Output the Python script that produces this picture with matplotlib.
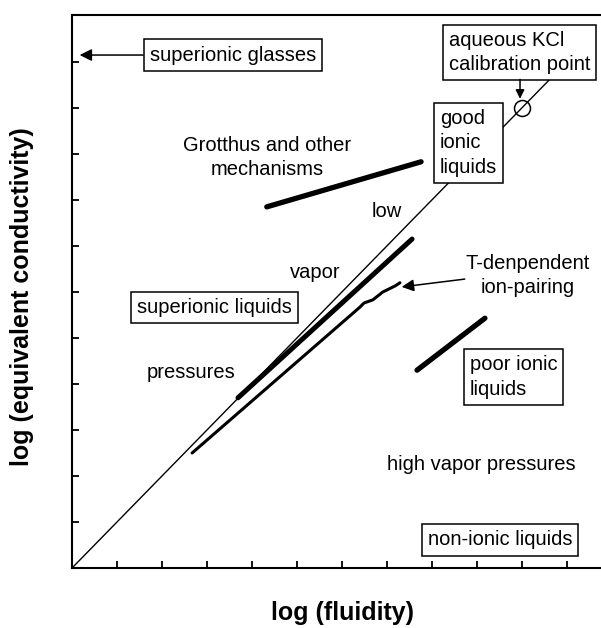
import numpy as np
import matplotlib.pyplot as plt

plt.rcParams['font.family'] = ['Liberation Sans', 'DejaVu Sans']

# reference line: equal log conductivity and log fluidity
ideal_x = [0.0, 11.0]
ideal_y = [0.0, 11.0]

# KCl calibration point
kcl_x = [10.0]
kcl_y = [10.0]

# Grotthus / other mechanisms
grot_x = [4.33, 7.76]
grot_y = [7.85, 8.83]

# good ionic liquids, low vapor pressures
good_x = [3.69, 7.56]
good_y = [3.70, 7.15]

# T-dependent ion pairing
pair_x = [2.67, 6.40, 6.49, 6.69, 6.91, 7.18, 7.29]
pair_y = [2.50, 5.67, 5.76, 5.83, 6.00, 6.13, 6.20]

# poor ionic liquids
poor_x = [7.67, 9.18]
poor_y = [4.30, 5.43]

fig = plt.figure(figsize=(6.01, 6.28), dpi=100)
ax = fig.add_axes([0.1198, 0.0955, 0.8802, 0.8806])

ax.plot(ideal_x, ideal_y, color='k', lw=1.0, zorder=1)
ax.plot(kcl_x, kcl_y, 'o', mfc='none', mec='k', ms=11.5, mew=1.1, zorder=2)
ax.plot(grot_x, grot_y, color='k', lw=3.8, solid_capstyle='round')
ax.plot(good_x, good_y, color='k', lw=3.6, solid_capstyle='round')
ax.plot(pair_x, pair_y, color='k', lw=2.2, solid_capstyle='round', solid_joinstyle='round')
ax.plot(poor_x, poor_y, color='k', lw=3.8, solid_capstyle='round')

ax.set_xlim(0, 11.76)
ax.set_ylim(0, 12.02)
ax.set_xticks(np.arange(1, 12))
ax.set_yticks(np.arange(1, 12))
ax.tick_params(direction='in', length=5, width=1.3, labelbottom=False, labelleft=False)
ax.spines['right'].set_visible(False)
for s in ['left', 'bottom', 'top']:
    ax.spines[s].set_linewidth(1.5)

fs = 14.5
ls = 1.35
box = dict(boxstyle='square,pad=0.3', fc='white', ec='k', lw=1.1)

ax.text(1.73, 11.15, 'superionic glasses', fontsize=fs, va='center', ha='left', bbox=box, zorder=5)
ax.annotate('', xy=(0.17, 11.15), xytext=(1.58, 11.15),
            arrowprops=dict(arrowstyle='-|>', color='k', lw=1.1, mutation_scale=18,
                            shrinkA=0, shrinkB=0))

ax.text(8.38, 11.2, 'aqueous KCl\ncalibration point', fontsize=fs, va='center', ha='left',
        bbox=box, zorder=5, linespacing=ls)
ax.annotate('', xy=(9.96, 10.2), xytext=(9.96, 10.62),
            arrowprops=dict(arrowstyle='-|>', color='k', lw=1.1, mutation_scale=13,
                            shrinkA=0, shrinkB=0), zorder=6)

ax.text(4.33, 8.93, 'Grotthus and other\nmechanisms', fontsize=fs, va='center', ha='center',
        linespacing=ls)

ax.text(8.18, 9.24, 'good\nionic\nliquids', fontsize=fs, va='center', ha='left',
        bbox=box, zorder=5, linespacing=ls)

ax.text(7.0, 7.74, 'low', fontsize=fs, va='center', ha='center')
ax.text(5.4, 6.43, 'vapor', fontsize=fs, va='center', ha='center')
ax.text(2.64, 4.24, 'pressures', fontsize=fs, va='center', ha='center')

ax.text(1.44, 5.67, 'superionic liquids', fontsize=fs, va='center', ha='left', bbox=box, zorder=5)

ax.text(10.13, 6.35, 'T-denpendent\nion-pairing', fontsize=fs, va='center', ha='center',
        linespacing=ls)
ax.annotate('', xy=(7.33, 6.11), xytext=(8.73, 6.28),
            arrowprops=dict(arrowstyle='-|>', color='k', lw=1.1, mutation_scale=18,
                            shrinkA=0, shrinkB=0))

ax.text(8.84, 4.15, 'poor ionic\nliquids', fontsize=fs, va='center', ha='left',
        bbox=box, zorder=5, linespacing=ls)

ax.text(9.09, 2.24, 'high vapor pressures', fontsize=fs, va='center', ha='center')

ax.text(7.91, 0.61, 'non-ionic liquids', fontsize=fs, va='center', ha='left', bbox=box, zorder=5)

fig.text(342 / 601, 1 - 613 / 628, 'log (fluidity)', fontsize=18, fontweight='bold',
         ha='center', va='center')
fig.text(22 / 601, 1 - 297 / 628, 'log (equivalent conductivity)', fontsize=18,
         fontweight='bold', ha='center', va='center', rotation=90)

fig.savefig('out.png', dpi=100)
